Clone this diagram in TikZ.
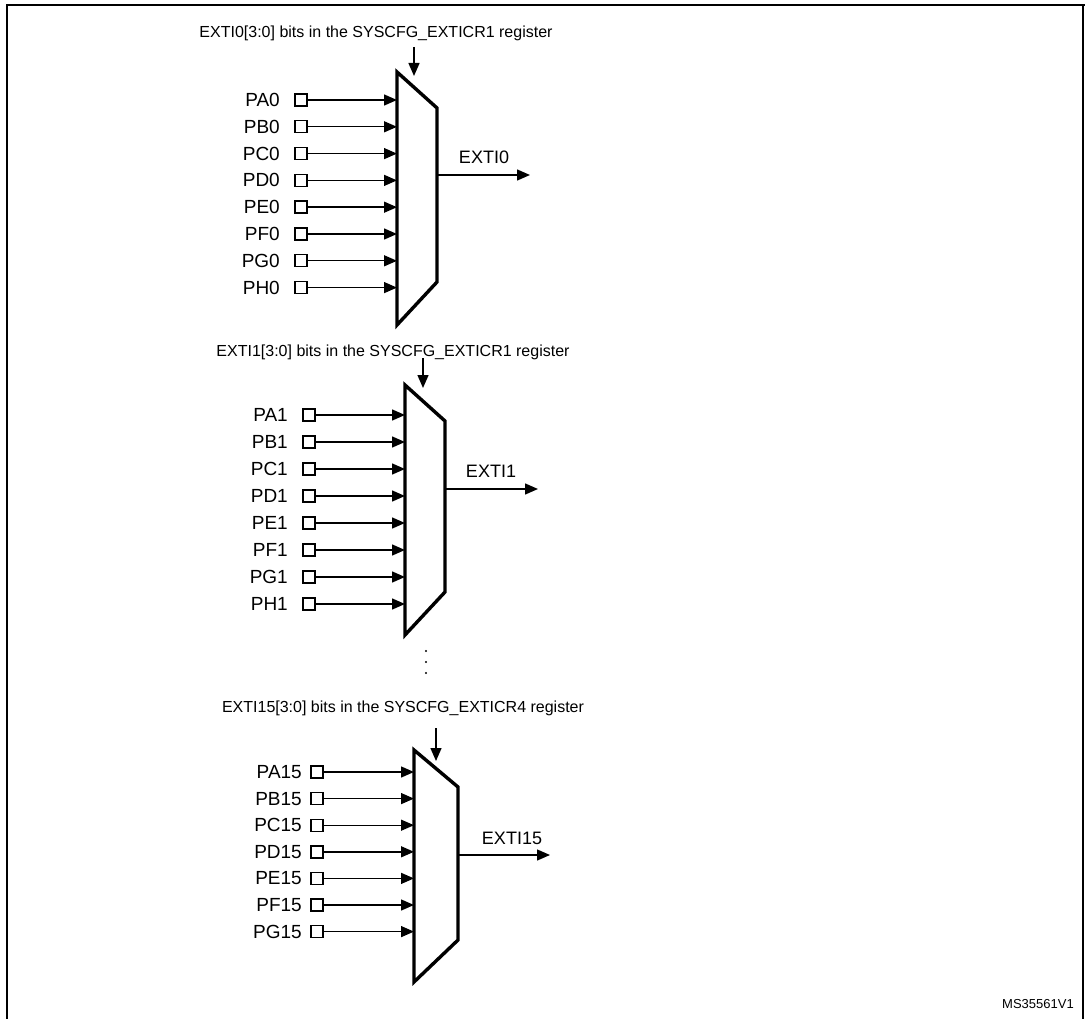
\documentclass[tikz,border=0pt]{standalone}
\usepackage{fontspec}
\setmainfont{Liberation Sans}
\usetikzlibrary{arrows.meta}

\tikzset{
  pin label/.style={anchor=east, inner sep=0pt, font=\fontsize{19}{21}\selectfont},
  pin box/.style={draw, line width=1.4pt, minimum size=12pt, inner sep=0pt},
  sel label/.style={inner sep=0pt, font=\fontsize{16}{18}\selectfont},
  out label/.style={inner sep=0pt, font=\fontsize{18}{20}\selectfont},
  mux line/.style={line width=3.4pt, line join=miter},
  sig/.style={line width=1.4pt, -{Triangle[length=13pt,width=11pt]}}
}

\begin{document}
\begin{tikzpicture}[x=1pt,y=-1pt]
\useasboundingbox (0,0) rectangle (1085,1019);
\draw[line width=1.2pt] (7,1019) -- (7,5) -- (1085,5);
\draw[line width=1.2pt] (1083,5) -- (1083,1019);

% EXTI0 multiplexer
\node[sel label] (sel0) at (376,33) {EXTI0[3:0] bits in the SYSCFG\_EXTICR1 register};
\draw[mux line] (397,72) -- (437,108) -- (437,282) -- (397,325) -- cycle;
\coordinate (m0in) at (414,76);
\draw[sig] (414,47) -- (m0in);
\foreach \p [count=\i from 0] in {A,B,C,D,E,F,G,H} {
  \node[pin box] (b0\p) at (301,{100+26.8*\i}) {};
  \node[pin label] (l0\p) at (280,{100+26.8*\i}) {P\p0};
  \draw[sig] (b0\p.east) -- (397,{100+26.8*\i});
}
\coordinate (o0) at (530,175);
\draw[sig] (437,175) -- (o0);
\node[out label] (n0) at (484,157) {EXTI0};

% EXTI1 multiplexer
\node[sel label] (sel1) at (393,352) {EXTI1[3:0] bits in the SYSCFG\_EXTICR1 register};
\draw[mux line] (405,385) -- (445,421) -- (445,592) -- (405,635) -- cycle;
\coordinate (m1in) at (423,388);
\draw[sig] (423,358) -- (m1in);
\foreach \p [count=\i from 0] in {A,B,C,D,E,F,G,H} {
  \node[pin box] (b1\p) at (309,{415+27*\i}) {};
  \node[pin label] (l1\p) at (288,{415+27*\i}) {P\p1};
  \draw[sig] (b1\p.east) -- (405,{415+27*\i});
}
\coordinate (o1) at (538,489);
\draw[sig] (445,489) -- (o1);
\node[out label] (n1) at (491,471) {EXTI1};

% dots
\foreach \y in {651,662,673} \fill (426,\y) circle (1.1pt);

% EXTI15 multiplexer
\node[sel label] (sel15) at (403,708) {EXTI15[3:0] bits in the SYSCFG\_EXTICR4 register};
\draw[mux line] (414,750) -- (458,787) -- (458,940) -- (414,982) -- cycle;
\coordinate (m15in) at (436,761);
\draw[sig] (436,728) -- (m15in);
\foreach \p [count=\i from 0] in {A,B,C,D,E,F,G} {
  \node[pin box] (b15\p) at (317,{772+26.6*\i}) {};
  \node[pin label] (l15\p) at (302,{772+26.6*\i}) {P\p15};
  \draw[sig] (b15\p.east) -- (414,{772+26.6*\i});
}
\coordinate (o15) at (550,855);
\draw[sig] (458,855) -- (o15);
\node[out label] (n15) at (512,838) {EXTI15};

\node[inner sep=0pt, font=\fontsize{13}{15}\selectfont] (ref) at (1038,1004) {MS35561V1};
\end{tikzpicture}
\end{document}
